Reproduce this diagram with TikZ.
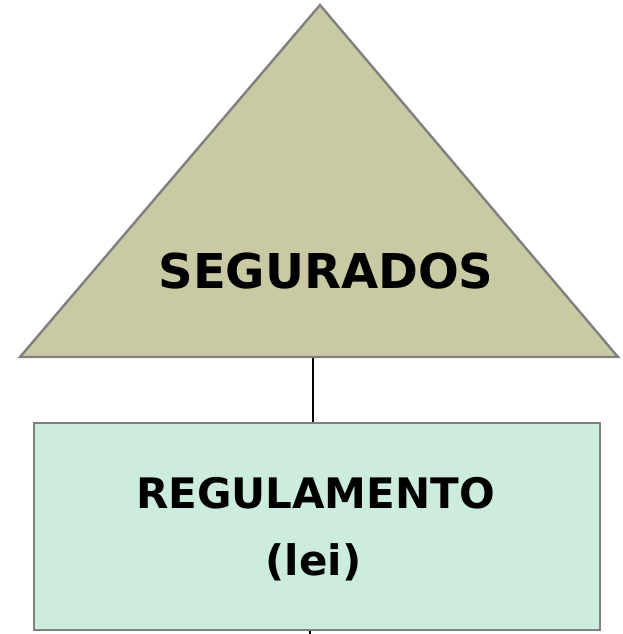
\documentclass[tikz,border=0pt]{standalone}
\usepackage{fontspec}
\setmainfont{DejaVu Sans}
\definecolor{trifill}{RGB}{201,202,163}
\definecolor{boxfill}{RGB}{204,236,221}
\definecolor{edgegray}{RGB}{128,128,128}
\begin{document}
\begin{tikzpicture}[x=1pt,y=-1pt,
  shapeedge/.style={draw=edgegray,line width=2.4pt,line join=miter},
  link/.style={draw=black,line width=2.8pt},
  lbl/.style={inner sep=0pt,font=\bfseries}]
\useasboundingbox (0,0) rectangle (623,634);
\coordinate (apex) at (320,5);
\coordinate (bl) at (20,357);
\coordinate (br) at (618,357);
\filldraw[shapeedge,fill=trifill] (apex) -- (br) -- (bl) -- cycle;
\node[lbl,anchor=base,font=\fontsize{48}{56}\selectfont\bfseries] (seg) at (326,288) {SEGURADOS};
\node[draw=edgegray,line width=2.4pt,fill=boxfill,minimum width=566pt,minimum height=207pt,inner sep=0pt,anchor=north west] (reg) at (33,421.5) {};
\node[lbl,anchor=base,font=\fontsize{42}{48}\selectfont\bfseries] (t1) at (315.5,508) {REGULAMENTO};
\node[lbl,anchor=base,font=\fontsize{42}{48}\selectfont\bfseries] (t2) at (313.5,575) {(lei)};
\coordinate (topjoin) at (313,358);
\coordinate (belowend) at (310,640);
\draw[link] (topjoin) -- (reg.north -| topjoin);
\draw[link] (reg.south -| belowend) -- (belowend);
\end{tikzpicture}
\end{document}
